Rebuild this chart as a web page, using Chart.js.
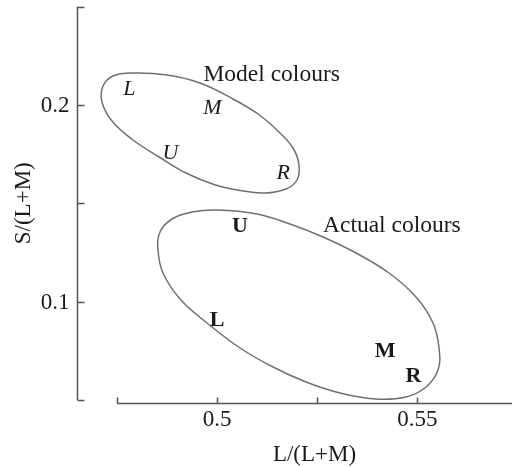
<!DOCTYPE html>
<html><head><meta charset="utf-8">
<script src="https://cdn.jsdelivr.net/npm/chart.js@4"></script>
<style>html,body{margin:0;padding:0;background:#fff}#wrap{width:512px;height:467px}</style>
</head><body><div id="wrap"><canvas id="c" width="512" height="467"></canvas></div>
<script>
// ---- data ----
const xTicks = [0.475, 0.5, 0.525, 0.55];
const xTickLabels = ['', '0.5', '', '0.55'];
const yTicks = [0.05, 0.1, 0.15, 0.2, 0.25];
const yTickLabels = ['', '0.1', '', '0.2', ''];
const xTitle = 'L/(L+M)';
const yTitle = 'S/(L+M)';

const modelNames = ['L', 'M', 'U', 'R'];
const modelX = [0.4781, 0.4988, 0.4883, 0.5165];
const modelY = [0.2082, 0.1983, 0.1756, 0.1653];

const actualNames = ['U', 'L', 'M', 'R'];
const actualX = [0.5057, 0.5000, 0.5419, 0.5490];
const actualY = [0.1382, 0.0904, 0.0745, 0.0621];

const captionNames = ['Model colours', 'Actual colours'];
const captionX = [0.5136, 0.5436];
const captionY = [0.2152, 0.1386];

// closed outlines (read around the drawn loops)
const modelOutlineX = [0.49571, 0.50395, 0.51019, 0.51518, 0.51893, 0.52042, 0.51992, 0.51718, 0.51194, 0.50569, 0.49920, 0.49246, 0.48572, 0.47898, 0.47374, 0.47124, 0.47149, 0.47399, 0.47898, 0.48747];
const modelOutlineY = [0.21112, 0.20299, 0.19536, 0.18672, 0.17808, 0.16944, 0.16182, 0.15724, 0.15521, 0.15648, 0.15953, 0.16512, 0.17325, 0.18215, 0.19180, 0.20146, 0.20959, 0.21468, 0.21620, 0.21518];

const actualOutlineX = [0.51818, 0.52642, 0.53465, 0.54289, 0.54963, 0.55388, 0.55538, 0.55513, 0.55213, 0.54714, 0.53940, 0.53066, 0.52217, 0.51393, 0.50569, 0.49746, 0.49072, 0.48647, 0.48522, 0.48572, 0.48872, 0.49371, 0.49995, 0.50994];
const actualOutlineY = [0.13945, 0.13285, 0.12471, 0.11455, 0.10235, 0.08914, 0.07643, 0.06525, 0.05661, 0.05153, 0.05051, 0.05356, 0.05915, 0.06677, 0.07643, 0.08914, 0.10133, 0.11455, 0.12624, 0.13539, 0.14200, 0.14555, 0.14657, 0.14454];

// ---- build ----
const pts = (xs, ys) => xs.map((x, i) => ({x: x, y: ys[i]}));
const AXIS_COLOR = '#555';
const TEXT_COLOR = '#1a1a1a';
const SERIF = '"Liberation Serif", "DejaVu Serif", serif';

const closeLoops = {
  id: 'closeLoops',
  afterDatasetUpdate(chart, args) {
    if (args.index < 2) {
      const el = chart.getDatasetMeta(args.index).dataset;
      if (el) {
        el._loop = true;
        el._fullLoop = true;
        el._pointsUpdated = false;
        delete el._segments;
        el._path = undefined;
      }
    }
  }
};

const overlay = {
  id: 'overlay',
  afterDatasetsDraw(chart) {
    const ctx = chart.ctx;
    const xs = chart.scales.x, ys = chart.scales.y;
    ctx.save();
    // axes
    ctx.strokeStyle = AXIS_COLOR;
    ctx.lineWidth = 1.5;
    ctx.lineCap = 'butt';
    const ax = Math.round(xs.getPixelForValue(xs.min)) + 0.5;
    ctx.beginPath();
    ctx.moveTo(ax, ys.getPixelForValue(yTicks[0]));
    ctx.lineTo(ax, ys.getPixelForValue(yTicks[yTicks.length - 1]));
    yTicks.forEach(v => {
      const p = Math.round(ys.getPixelForValue(v)) + 0.5;
      ctx.moveTo(ax, p); ctx.lineTo(ax + 7, p);
    });
    ctx.stroke();
    const ay = Math.round(ys.bottom) + 3.5;
    ctx.beginPath();
    ctx.moveTo(xs.getPixelForValue(xTicks[0]), ay);
    ctx.lineTo(xs.right, ay);
    xTicks.forEach(v => {
      const p = Math.round(xs.getPixelForValue(v)) + 0.5;
      ctx.moveTo(p, ay); ctx.lineTo(p, ay - 6);
    });
    ctx.stroke();
    // tick labels
    ctx.fillStyle = TEXT_COLOR;
    ctx.font = '23px ' + SERIF;
    ctx.textAlign = 'right'; ctx.textBaseline = 'middle';
    yTicks.forEach((v, i) => {
      if (yTickLabels[i]) ctx.fillText(yTickLabels[i], ax - 8, ys.getPixelForValue(v) + 1);
    });
    ctx.textAlign = 'center'; ctx.textBaseline = 'top';
    xTicks.forEach((v, i) => {
      if (xTickLabels[i]) ctx.fillText(xTickLabels[i], xs.getPixelForValue(v), ay + 5);
    });
    // titles
    ctx.textBaseline = 'middle';
    ctx.fillText(xTitle, (xs.getPixelForValue(xTicks[0]) + xs.right) / 2, 455);
    ctx.save();
    ctx.translate(24, (ys.top + ys.bottom) / 2);
    ctx.rotate(-Math.PI / 2);
    ctx.fillText(yTitle, 0, 0);
    ctx.restore();
    // point letters and captions
    const drawNames = (dsIndex, names, font) => {
      const meta = chart.getDatasetMeta(dsIndex);
      ctx.font = font;
      ctx.textAlign = 'center'; ctx.textBaseline = 'middle';
      meta.data.forEach((el, i) => ctx.fillText(names[i], el.x, el.y));
    };
    drawNames(2, modelNames, 'italic 22px ' + SERIF);
    drawNames(3, actualNames, 'bold 22px ' + SERIF);
    drawNames(4, captionNames, '23.5px ' + SERIF);
    ctx.restore();
  }
};

new Chart(document.getElementById('c'), {
  type: 'scatter',
  data: {
    datasets: [
      {data: pts(modelOutlineX, modelOutlineY), showLine: true, tension: 0.4, capBezierPoints: false, borderColor: '#707070', borderWidth: 1.5, pointRadius: 0, clip: false},
      {data: pts(actualOutlineX, actualOutlineY), showLine: true, tension: 0.4, capBezierPoints: false, borderColor: '#707070', borderWidth: 1.5, pointRadius: 0, clip: false},
      {data: pts(modelX, modelY), pointRadius: 0},
      {data: pts(actualX, actualY), pointRadius: 0},
      {data: pts(captionX, captionY), pointRadius: 0}
    ]
  },
  options: {
    responsive: false,
    devicePixelRatio: 1,
    animation: false,
    layout: {padding: {left: 77, right: 0, top: 6.5, bottom: 67}},
    plugins: {legend: {display: false}, tooltip: {enabled: false}},
    scales: {
      x: {type: 'linear', min: 0.465, max: 0.5736, display: false},
      y: {type: 'linear', min: 0.05, max: 0.25, display: false}
    }
  },
  plugins: [closeLoops, overlay]
});
</script>
</body></html>
